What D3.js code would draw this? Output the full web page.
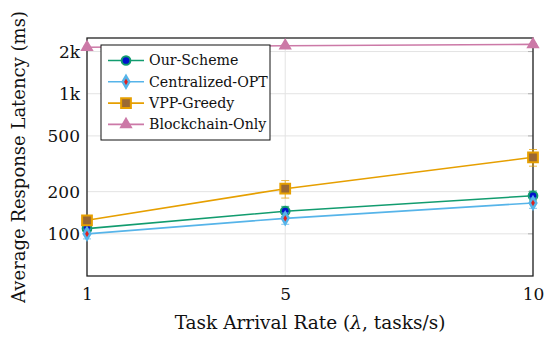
<!DOCTYPE html>
<html>
<head>
<meta charset="utf-8">
<script src="https://cdn.jsdelivr.net/npm/d3@7"></script>
<style>
  body { margin: 0; background: #fff; }
  svg { display: block; }
</style>
</head>
<body>
<div id="chart"></div>
<script>
// data
let rates = [1, 5, 10];
let ourScheme = [109, 145, 187];
let ourErr = [8, 12, 15];
let centralizedOpt = [100, 129, 166];
let centralizedErr = [8, 12, 14];
let vppGreedy = [125, 210, 352];
let vppErr = [10, 30, 48];
let blockchainOnly = [2150, 2200, 2250];
let blockchainErr = [30, 30, 30];
let yTicks = [100, 200, 500, 1000, 2000];
let yTickLabels = ["100", "200", "500", "1k", "2k"];

let series = [
  { name: "Our-Scheme", values: ourScheme, err: ourErr, color: "#129c6f", mark: "circle", fill: "#0011cc" },
  { name: "Centralized-OPT", values: centralizedOpt, err: centralizedErr, color: "#56b4e9", mark: "diamond", fill: "#e0201c" },
  { name: "VPP-Greedy", values: vppGreedy, err: vppErr, color: "#e69f00", mark: "square", fill: "#9a6834" },
  { name: "Blockchain-Only", values: blockchainOnly, err: blockchainErr, color: "#cc79a7", mark: "triangle", fill: "#cc79a7" },
];

let width = 550, height = 340;
let margin = { top: 38, right: 17, bottom: 64, left: 87 };
let serif = "DejaVu Serif";

let svg = d3.select("#chart").append("svg")
  .attr("width", width)
  .attr("height", height)
  .attr("font-family", serif);

let x = d3.scaleLinear().domain([1, 10]).range([margin.left, width - margin.right]);
let y = d3.scaleLog().domain([50, 2500]).range([height - margin.bottom, margin.top]);

// grid
svg.append("g")
  .selectAll("line.h")
  .data(yTicks)
  .join("line")
  .attr("x1", margin.left).attr("x2", width - margin.right)
  .attr("y1", d => y(d)).attr("y2", d => y(d))
  .attr("stroke", "#e3e3e3").attr("stroke-width", 1);
svg.append("g")
  .selectAll("line.v")
  .data(rates)
  .join("line")
  .attr("y1", margin.top).attr("y2", height - margin.bottom)
  .attr("x1", d => x(d)).attr("x2", d => x(d))
  .attr("stroke", "#e3e3e3").attr("stroke-width", 1);

// inner tick marks
let tickLen = 5;
svg.append("g").selectAll("line")
  .data(yTicks)
  .join("line")
  .attr("x1", width - margin.right - tickLen).attr("x2", width - margin.right)
  .attr("y1", d => y(d)).attr("y2", d => y(d))
  .attr("stroke", "#b0b0b0");

let xAxis = svg.append("g")
  .attr("transform", `translate(0,${height - margin.bottom})`)
  .call(d3.axisBottom(x).tickValues(rates).tickSize(0).tickPadding(12).tickFormat(d3.format("d")))
  .attr("font-family", serif).attr("font-size", 17);
xAxis.select(".domain").remove();
xAxis.selectAll("text").attr("fill", "#111");

let yAxis = svg.append("g")
  .attr("transform", `translate(${margin.left},0)`)
  .call(d3.axisLeft(y).tickValues(yTicks).tickSize(0).tickPadding(7)
    .tickFormat((d, i) => yTickLabels[i]))
  .attr("font-family", serif).attr("font-size", 17);
yAxis.select(".domain").remove();
yAxis.selectAll("text").attr("fill", "#111");

// frame
svg.append("rect")
  .attr("x", margin.left).attr("y", margin.top)
  .attr("width", width - margin.left - margin.right)
  .attr("height", height - margin.top - margin.bottom)
  .attr("fill", "none").attr("stroke", "#222").attr("stroke-width", 1.3);

let symbolOf = {
  circle: d3.symbol(d3.symbolCircle, 60),
  diamond: d3.symbol(d3.symbolDiamond, 38),
  square: d3.symbol(d3.symbolSquare, 95),
  triangle: d3.symbol(d3.symbolTriangle, 42),
};

let line = d3.line().x(d => x(d[0])).y(d => y(d[1]));

series.forEach(s => {
  let pts = rates.map((r, i) => [r, s.values[i], s.err[i]]);
  let g = svg.append("g");

  // error bars
  let eb = g.selectAll("g.err").data(pts).join("g").attr("opacity", 0.75);
  eb.append("line")
    .attr("x1", d => x(d[0])).attr("x2", d => x(d[0]))
    .attr("y1", d => y(d[1] - d[2])).attr("y2", d => y(d[1] + d[2]))
    .attr("stroke", s.color).attr("stroke-width", 1);
  [-1, 1].forEach(sign => {
    eb.append("line")
      .attr("x1", d => x(d[0]) - 4).attr("x2", d => x(d[0]) + 4)
      .attr("y1", d => y(d[1] + sign * d[2])).attr("y2", d => y(d[1] + sign * d[2]))
      .attr("stroke", s.color).attr("stroke-width", 1);
  });

  g.append("path")
    .datum(pts)
    .attr("d", line)
    .attr("fill", "none")
    .attr("stroke", s.color)
    .attr("stroke-width", 1.6);

  g.selectAll("path.mk").data(pts).join("path")
    .attr("class", "mk")
    .attr("transform", d => `translate(${x(d[0])},${y(d[1])})`)
    .attr("d", symbolOf[s.mark])
    .attr("fill", s.fill)
    .attr("stroke", s.color)
    .attr("stroke-width", s.mark == "diamond" ? 2.5 : 2);
});

// legend
let lg = svg.append("g").attr("transform", "translate(101,45)");
lg.append("rect")
  .attr("width", 169).attr("height", 95)
  .attr("fill", "#fff").attr("stroke", "#111").attr("stroke-width", 1);
let rowH = 21.3;
let row = lg.selectAll("g.row").data(series).join("g")
  .attr("transform", (d, i) => `translate(0,${15.5 + i * rowH})`);
row.append("line")
  .attr("x1", 7).attr("x2", 43)
  .attr("stroke", d => d.color).attr("stroke-width", 1.6);
row.append("path")
  .attr("transform", "translate(25,0)")
  .attr("d", d => symbolOf[d.mark]())
  .attr("fill", d => d.fill)
  .attr("stroke", d => d.color)
  .attr("stroke-width", d => d.mark == "diamond" ? 2.5 : 2);
row.append("text")
  .attr("x", 48).attr("dy", "0.35em")
  .attr("font-size", 14.2).attr("fill", "#111")
  .text(d => d.name);

// axis titles
svg.append("text")
  .attr("x", (margin.left + width - margin.right) / 2)
  .attr("y", 329)
  .attr("text-anchor", "middle")
  .attr("font-size", 18.5).attr("fill", "#111")
  .html("Task Arrival Rate (<tspan font-style='italic'>λ</tspan>, tasks/s)");

svg.append("text")
  .attr("transform", `translate(25,${(margin.top + height - margin.bottom) / 2}) rotate(-90)`)
  .attr("text-anchor", "middle")
  .attr("font-size", 18).attr("fill", "#111")
  .text("Average Response Latency (ms)");
</script>
</body>
</html>
